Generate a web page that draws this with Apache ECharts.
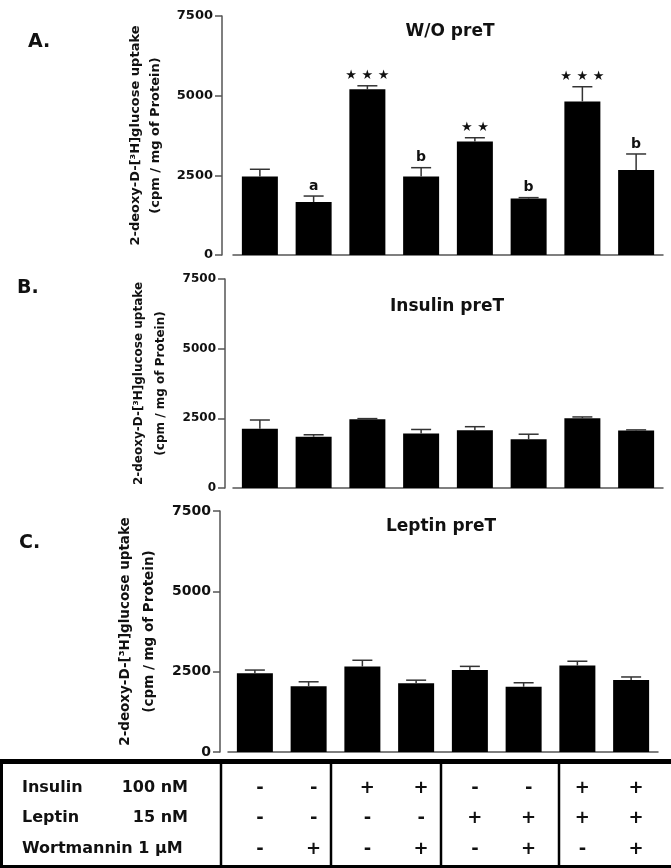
<!DOCTYPE html>
<html><head><meta charset="utf-8">
<script src="https://cdn.jsdelivr.net/npm/echarts/dist/echarts.min.js"></script>
<style>html,body{margin:0;padding:0;background:#fff}#c{width:671px;height:868px}</style>
</head><body><div id="c"></div>
<script>
// ---- data ----
const categories = ['1','2','3','4','5','6','7','8'];
const yTicks = [0, 2500, 5000, 7500];
const insulinRow = ['-','-','+','+','-','-','+','+'];
const leptinRow = ['-','-','-','-','+','+','+','+'];
const wortmanninRow = ['-','+','-','+','-','+','-','+'];
const rowLabels = ['Insulin', 'Leptin', 'Wortmannin 1 µM'];
const rowDoses = ['100 nM', '15 nM', ''];

const woPreTMeans = [2460, 1660, 5200, 2460, 3560, 1770, 4820, 2670];
const woPreTErr   = [230, 190, 110, 280, 120, 30, 460, 500];
const woPreTMarks = ['', 'a', '★ ★ ★', 'b', '★ ★', 'b', '★ ★ ★', 'b'];

const insulinPreTMeans = [2130, 1840, 2470, 1960, 2070, 1750, 2500, 2060];
const insulinPreTErr   = [310, 70, 20, 140, 130, 180, 50, 25];

const leptinPreTMeans = [2450, 2050, 2660, 2140, 2550, 2030, 2690, 2240];
const leptinPreTErr   = [100, 135, 195, 95, 115, 125, 135, 95];

const panelTitles = ['W/O preT', 'Insulin preT', 'Leptin preT'];
const panelLetters = ['A.', 'B.', 'C.'];
const yName = '2-deoxy-D-[³H]glucose uptake\n(cpm / mg of Protein)';

// ---- chart ----
const FONT = 'DejaVu Sans';
const chart = echarts.init(document.getElementById('c'), null, {renderer: 'canvas'});

const grids = [
  {left: 233, right: 8, top: 16, height: 239},
  {left: 233, right: 8, top: 279, height: 209},
  {left: 228, right: 13, top: 511, height: 241}
];
const yOffsets = [11, 8, 8];
const labelSizes = [13, 12, 14];
const nameSizes = [13, 12, 13.5];
const nameLH = [20, 22, 24];
const nameGaps = [49, 46, 47];

function errRenderer(means, errs, marks) {
  return function (params, api) {
    const i = api.value(0);
    const base = api.coord([i, means[i]]);
    const top = api.coord([i, means[i] + errs[i]]);
    const children = [
      {type: 'line', shape: {x1: base[0], y1: base[1], x2: top[0], y2: top[1]},
       style: {stroke: '#333', lineWidth: 1.5}},
      {type: 'line', shape: {x1: top[0] - 10, y1: top[1], x2: top[0] + 10, y2: top[1]},
       style: {stroke: '#333', lineWidth: 1.5}}
    ];
    if (marks && marks[i]) {
      const star = marks[i].indexOf('★') >= 0;
      children.push({type: 'text', x: top[0], y: top[1] - 10,
        style: {text: marks[i], align: 'center', verticalAlign: 'middle',
          font: 'bold ' + (star ? 13 : 14) + 'px "' + FONT + '"', fill: '#111'}});
    }
    return {type: 'group', children: children};
  };
}

const meansList = [woPreTMeans, insulinPreTMeans, leptinPreTMeans];
const errList = [woPreTErr, insulinPreTErr, leptinPreTErr];
const marksList = [woPreTMarks, null, null];

const xAxes = [], yAxes = [], series = [];
for (let k = 0; k < 3; k++) {
  xAxes.push({type: 'category', gridIndex: k, data: categories,
    axisLine: {show: true, lineStyle: {color: '#555', width: 1.5}},
    axisTick: {show: false}, axisLabel: {show: false}});
  yAxes.push({type: 'value', gridIndex: k, min: yTicks[0], max: yTicks[yTicks.length - 1],
    interval: yTicks[1] - yTicks[0], offset: yOffsets[k],
    splitLine: {show: false},
    axisLine: {show: true, lineStyle: {color: '#555', width: 1.5}},
    axisTick: {show: true, length: 7, lineStyle: {color: '#555', width: 1.5}},
    axisLabel: {margin: 9, fontFamily: FONT, fontWeight: 'bold', fontSize: labelSizes[k], color: '#111',
      formatter: v => String(v)},
    name: yName, nameLocation: 'middle', nameRotate: 90, nameGap: nameGaps[k],
    nameTextStyle: {fontFamily: FONT, fontWeight: 'bold', fontSize: nameSizes[k],
      lineHeight: nameLH[k], color: '#111', align: 'center'}});
  series.push({type: 'bar', xAxisIndex: k, yAxisIndex: k, data: meansList[k],
    barWidth: 36, itemStyle: {color: '#000'}, silent: true});
  series.push({type: 'custom', xAxisIndex: k, yAxisIndex: k, z: 5,
    data: meansList[k].map((m, i) => [i, m + errList[k][i]]),
    renderItem: errRenderer(meansList[k], errList[k], marksList[k])});
}

chart.setOption({
  animation: false,
  backgroundColor: '#fff',
  grid: grids,
  xAxis: xAxes,
  yAxis: yAxes,
  series: series
});

// ---- titles, letters, table ----
const g = [];
const titlePos = [[450, 32], [447, 307], [441, 527]];
const letterPos = [[28, 42], [17, 288], [19, 543]];
for (let k = 0; k < 3; k++) {
  g.push({type: 'text', x: titlePos[k][0], y: titlePos[k][1],
    style: {text: panelTitles[k], align: 'center', verticalAlign: 'middle',
      font: 'bold 17px "' + FONT + '"', fill: '#111'}});
  g.push({type: 'text', x: letterPos[k][0], y: letterPos[k][1],
    style: {text: panelLetters[k], align: 'left', verticalAlign: 'middle',
      font: 'bold 19px "' + FONT + '"', fill: '#111'}});
}
// table frame
const lineStyle = (w) => ({stroke: '#000', lineWidth: w});
g.push({type: 'line', shape: {x1: 0, y1: 761.5, x2: 671, y2: 761.5}, style: lineStyle(5)});
g.push({type: 'line', shape: {x1: 0, y1: 866.5, x2: 671, y2: 866.5}, style: lineStyle(3)});
g.push({type: 'line', shape: {x1: 1.5, y1: 760, x2: 1.5, y2: 868}, style: lineStyle(3)});
[221, 331, 441, 559].forEach(x => {
  g.push({type: 'line', shape: {x1: x, y1: 760, x2: x, y2: 868}, style: lineStyle(2.5)});
});
const rowY = [788, 818, 849];
const rows = [insulinRow, leptinRow, wortmanninRow];
for (let r = 0; r < 3; r++) {
  g.push({type: 'text', x: 22, y: rowY[r], style: {text: rowLabels[r], align: 'left',
    verticalAlign: 'middle', font: 'bold 16px "' + FONT + '"', fill: '#111'}});
  if (rowDoses[r]) g.push({type: 'text', x: 188, y: rowY[r], style: {text: rowDoses[r],
    align: 'right', verticalAlign: 'middle', font: 'bold 16px "' + FONT + '"', fill: '#111'}});
  for (let i = 0; i < categories.length; i++) {
    const px = chart.convertToPixel({xAxisIndex: 0}, i);
    g.push({type: 'text', x: px, y: rowY[r], style: {text: rows[r][i], align: 'center',
      verticalAlign: 'middle', font: 'bold 18px "' + FONT + '"', fill: '#111'}});
  }
}
chart.setOption({graphic: g});
</script>
</body></html>
